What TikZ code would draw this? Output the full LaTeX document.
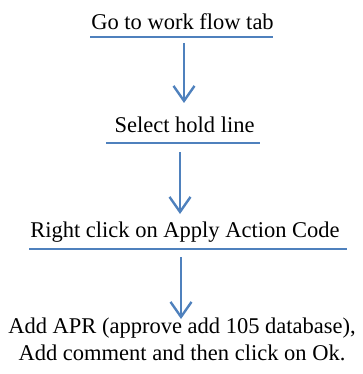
\documentclass[tikz,border=0pt]{standalone}
\usepackage{fontspec}
\setmainfont{Liberation Serif}
\usetikzlibrary{arrows.meta}
\definecolor{flowblue}{RGB}{79,129,189}
\tikzset{
  steptext/.style={anchor=base, inner sep=0pt, font=\fontsize{22.5}{27}\selectfont, text=black},
  uline/.style={draw=flowblue, line width=1.8pt},
  arr/.style={draw=flowblue, line width=2.4pt,
    -{Straight Barb[length=15pt, width=21pt, line width=2.4pt]}}
}
\begin{document}
\begin{tikzpicture}[x=1pt, y=-1pt]
  \useasboundingbox (0,0) rectangle (362,374);

  % step texts
  \node[steptext] (t1) at (182.5,30) {Go to work flow tab};
  \node[steptext] (t2) at (184.5,133) {Select hold line};
  \node[steptext] (t3) at (185,237) {Right click on Apply Action Code};
  \node[steptext, anchor=north, align=center] (t4) at (182,317.5)
    {Add APR (approve add 105 database),\\Add comment and then click on Ok.};

  % underlines
  \draw[uline] (90,37) -- (273,37);
  \draw[uline] (106,143) -- (260,143);
  \draw[uline] (29,249) -- (347,249);

  % arrow end points
  \coordinate (a1s) at (184,43);  \coordinate (a1e) at (184,103);
  \coordinate (a2s) at (180,152); \coordinate (a2e) at (180,214);
  \coordinate (a3s) at (181,257); \coordinate (a3e) at (181,319);

  \draw[arr] (a1s) -- (a1e);
  \draw[arr] (a2s) -- (a2e);
  \draw[arr] (a3s) -- (a3e);
\end{tikzpicture}
\end{document}
